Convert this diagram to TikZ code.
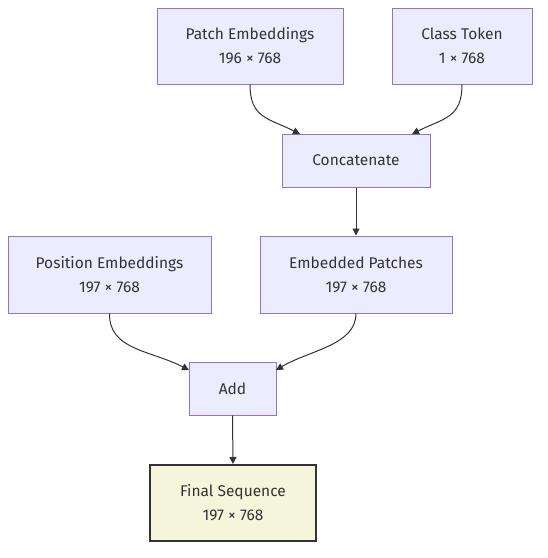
\documentclass[tikz,border=0pt]{standalone}
\usepackage{fontspec}
\setmainfont{Fira Sans}
\usetikzlibrary{arrows.meta}
\definecolor{nodefill}{HTML}{ECECFF}
\definecolor{nodestroke}{HTML}{9370DB}
\definecolor{txt}{HTML}{333333}
\definecolor{finalfill}{HTML}{F5F5DC}
\begin{document}
\begin{tikzpicture}[x=1pt,y=-1pt,
  box/.style={draw=nodestroke, fill=nodefill, line width=1pt, text=txt, align=center,
    font=\fontsize{15.5}{24}\selectfont, inner sep=0pt},
  finalbox/.style={draw=txt, fill=finalfill, line width=2pt, text=txt, align=center,
    font=\fontsize{15.5}{24}\selectfont, inner sep=0pt},
  conn/.style={draw=txt, line width=1pt, -{Triangle[length=7pt,width=7pt]}}]
\useasboundingbox (0,0) rectangle (548,558);
\node[box, minimum width=186pt, minimum height=76pt] (pe) at (250,46) {Patch Embeddings\\196 × 768};
\node[box, minimum width=140pt, minimum height=76pt] (ct) at (462,46) {Class Token\\1 × 768};
\node[box, minimum width=148pt, minimum height=53pt] (cc) at (356,160.5) {Concatenate};
\node[box, minimum width=203pt, minimum height=77pt] (pos) at (109.5,274.5) {Position Embeddings\\197 × 768};
\node[box, minimum width=192pt, minimum height=77pt] (ep) at (356,274.5) {Embedded Patches\\197 × 768};
\node[box, minimum width=87pt, minimum height=53pt] (add) at (232.5,388.5) {Add};
\node[finalbox, minimum width=166pt, minimum height=76pt] (fs) at (233,503) {Final Sequence\\197 × 768};
\coordinate (ccl) at (300,134);
\coordinate (ccr) at (412,134);
\coordinate (addl) at (189,370);
\coordinate (addr) at (276,370);
\draw[conn] (pe.south) .. controls (250,118) and (268,118) .. (ccl);
\draw[conn] (ct.south) .. controls (462,118) and (444,118) .. (ccr);
\draw[conn] (cc.south) -- (ep.north);
\draw[conn] (pos.south) .. controls (109,350) and (150,350) .. (addl);
\draw[conn] (ep.south) .. controls (356,345) and (310,350) .. (addr);
\draw[conn] (add.south) -- (fs.north);
\end{tikzpicture}
\end{document}
